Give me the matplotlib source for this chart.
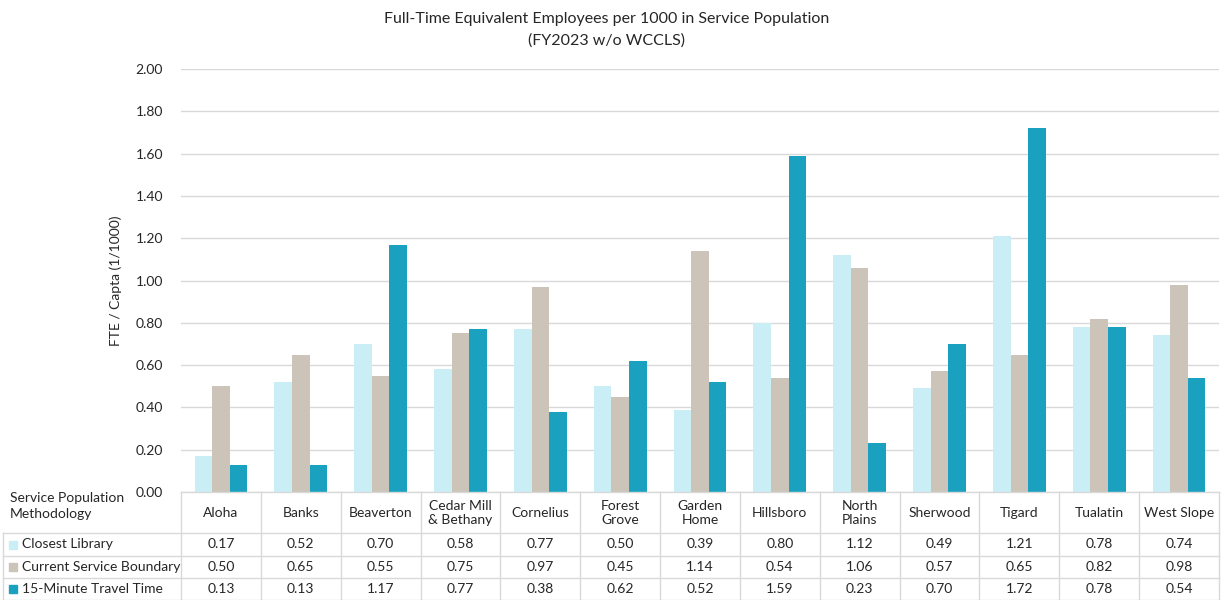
import matplotlib.pyplot as plt
import numpy as np
from matplotlib.lines import Line2D
from matplotlib.patches import Rectangle
from matplotlib.transforms import blended_transform_factory

plt.rcParams['font.family'] = ['Lato', 'DejaVu Sans']

# -- Datos --
libraries = ['Aloha', 'Banks', 'Beaverton', 'Cedar Mill\n& Bethany', 'Cornelius',
             'Forest\nGrove', 'Garden\nHome', 'Hillsboro', 'North\nPlains',
             'Sherwood', 'Tigard', 'Tualatin', 'West Slope']
closest = [0.17, 0.52, 0.70, 0.58, 0.77, 0.50, 0.39, 0.80, 1.12, 0.49, 1.21, 0.78, 0.74]
boundary = [0.50, 0.65, 0.55, 0.75, 0.97, 0.45, 1.14, 0.54, 1.06, 0.57, 0.65, 0.82, 0.98]
travel = [0.13, 0.13, 1.17, 0.77, 0.38, 0.62, 0.52, 1.59, 0.23, 0.70, 1.72, 0.78, 0.54]
series_names = ['Closest Library', 'Current Service Boundary', '15-Minute Travel Time']
y_ticks = [0.0, 0.2, 0.4, 0.6, 0.8, 1.0, 1.2, 1.4, 1.6, 1.8, 2.0]

colors = ['#C9EEF6', '#CCC3B9', '#1BA1C0']
grid_c = '#D9D9D9'
text_c = '#262626'

W, H = 1221, 600
fig = plt.figure(figsize=(W / 100, H / 100), dpi=100)

def fx(px):
    return px / W

def fy(py):
    return 1 - py / H

ax = fig.add_axes([fx(181), fy(492), fx(1219) - fx(181), fy(69) - fy(492)])

x = np.arange(len(libraries))
w = 0.22
series = [closest, boundary, travel]
for i, vals in enumerate(series):
    ax.bar(x + (i - 1) * w, vals, w, color=colors[i], zorder=3)

ax.set_xlim(-0.5, len(libraries) - 0.5)
ax.set_ylim(0, 2.0)
ax.set_yticks(y_ticks)
ax.set_yticklabels([f'{t:.2f}' for t in y_ticks], fontsize=10, color=text_c)
ax.set_xticks([])
ax.tick_params(axis='y', length=0, pad=13)
ax.grid(axis='y', color=grid_c, lw=1, zorder=0)
for s in ax.spines.values():
    s.set_visible(False)
ax.set_ylabel('FTE / Capta (1/1000)', fontsize=10, color=text_c, labelpad=10)

fig.text(fx(607), fy(19), 'Full-Time Equivalent Employees per 1000 in Service Population',
         ha='center', va='center', fontsize=11.5, color=text_c)
fig.text(fx(607), fy(41), '(FY2023 w/o WCCLS)',
         ha='center', va='center', fontsize=11.5, color=text_c)

# -- Tabla de datos bajo el gráfico --
tr = blended_transform_factory(ax.transData, fig.transFigure)
row_lines = [533, 556, 578, 599.5]
for py in row_lines:
    fig.add_artist(Line2D([fx(3), fx(1219)], [fy(py), fy(py)], color=grid_c, lw=1))
fig.add_artist(Line2D([fx(181), fx(1219)], [fy(492), fy(492)], color=grid_c, lw=1))
fig.add_artist(Line2D([fx(3), fx(3)], [fy(533), fy(600)], color=grid_c, lw=1))
for b in np.arange(len(libraries) + 1) - 0.5:
    fig.add_artist(Line2D([b, b], [fy(492), fy(600)], color=grid_c, lw=1, transform=tr))

fig.text(fx(10), fy(506), 'Service Population\nMethodology', ha='left', va='center',
         fontsize=10, color=text_c, linespacing=1.35)

row_centers = [513, 544.5, 567, 589]
for j, name in enumerate(libraries):
    fig.text(x[j], fy(row_centers[0]), name, ha='center', va='center', fontsize=10,
             color=text_c, transform=tr, linespacing=1.2)
    for i, vals in enumerate(series):
        fig.text(x[j], fy(row_centers[i + 1]), f'{vals[j]:.2f}', ha='center', va='center',
                 fontsize=10, color=text_c, transform=tr)

for i, name in enumerate(series_names):
    cy = row_centers[i + 1]
    fig.add_artist(Rectangle((fx(9), fy(cy + 4)), fx(8), fy(0) - fy(8),
                             color=colors[i], transform=fig.transFigure))
    fig.text(fx(22), fy(cy), name, ha='left', va='center', fontsize=10, color=text_c)

fig.savefig('out.png', dpi=100)
